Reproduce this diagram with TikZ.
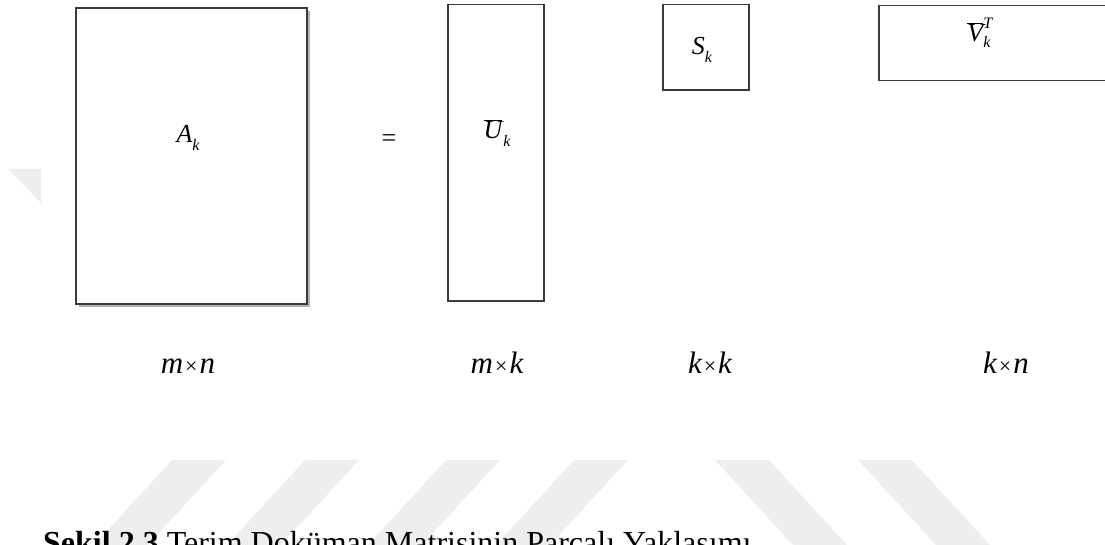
\documentclass[tikz,border=0pt]{standalone}
\usepackage{fontspec}
\setmainfont{Liberation Serif}
\definecolor{wm}{HTML}{EEEEEE}
\definecolor{boxline}{HTML}{3A3A3A}
\newcommand{\subk}[1]{\raisebox{-0.3em}{\fontsize{16}{16}\selectfont\itshape #1}}
\newcommand{\barletter}[1]{\ensuremath{\overline{\hbox{\itshape #1}}}}
\begin{document}
\begin{tikzpicture}[x=1pt,y=-1pt,
  mbox/.style={draw=boxline, line width=1.2pt, fill=white, inner sep=0pt},
  lab/.style={inner sep=0pt, font=\fontsize{26}{28}\selectfont},
  dimlab/.style={inner sep=0pt, anchor=base, font=\fontsize{31}{33}\selectfont},
  wmk/.style={fill=wm, draw=none}]
\useasboundingbox (0,0) rectangle (1105,545);
\clip (0,0) rectangle (1105,545);
% watermark pieces
\fill[wmk] (8,169) -- (41,169) -- (41,203) -- cycle;
\fill[wmk] (172,460) -- (226,460) -- (148,545) -- (94,545) -- cycle;
\fill[wmk] (305,460) -- (359,460) -- (281,545) -- (227,545) -- cycle;
\fill[wmk] (446,460) -- (500,460) -- (422,545) -- (368,545) -- cycle;
\fill[wmk] (574,460) -- (628,460) -- (550,545) -- (496,545) -- cycle;
\fill[wmk] (715,460) -- (769,460) -- (847,545) -- (793,545) -- cycle;
\fill[wmk] (858,460) -- (912,460) -- (990,545) -- (936,545) -- cycle;
% shadow of A
\fill[black!30] (79,11) rectangle (310,307);
% boxes
\node[mbox, minimum width=231pt, minimum height=296pt] (A) at (191.5,156) {};
\node[mbox, minimum width=96pt, minimum height=296.5pt] (U) at (496,152.75) {};
\node[mbox, minimum width=86pt, minimum height=85.5pt] (S) at (706,47.25) {};
\node[mbox, minimum width=236pt, minimum height=75pt] (V) at (997,43) {};
% labels
\node[lab] (Alab) at (188,138) {{\itshape A}\subk{k}};
\node[lab] (eq) at (389,141) {=};
\node[lab] (Ulab) at (497,133) {\barletter{U}\kern1pt\subk{k}};
\node[lab] (Slab) at (702,50) {{\itshape S}\subk{k}};
\node[lab] (Vlab) at (980,33) {\ensuremath{\overline{\hbox{\itshape V}}^{\hbox{\fontsize{16}{16}\selectfont\itshape T}}_{\hbox{\fontsize{16}{16}\selectfont\itshape k}}}};
% dimensions
\node[dimlab] (dA) at (188,373) {{\itshape m}\kern2pt{\fontsize{22}{22}\selectfont ×}\kern2pt{\itshape n}};
\node[dimlab] (dU) at (497,373) {{\itshape m}\kern2pt{\fontsize{22}{22}\selectfont ×}\kern2pt{\itshape k}};
\node[dimlab] (dS) at (710,373) {{\itshape k}\kern2pt{\fontsize{22}{22}\selectfont ×}\kern2pt{\itshape k}};
\node[dimlab] (dV) at (1006,373) {{\itshape k}\kern2pt{\fontsize{22}{22}\selectfont ×}\kern2pt{\itshape n}};
% caption (cut off at the bottom edge, as in the reference)
\node[inner sep=0pt, anchor=base west, font=\fontsize{32}{36}\selectfont] (cap) at (43,553) {\textbf{Şekil 2.3} Terim Doküman Matrisinin Parçalı Yaklaşımı};
\end{tikzpicture}
\end{document}
